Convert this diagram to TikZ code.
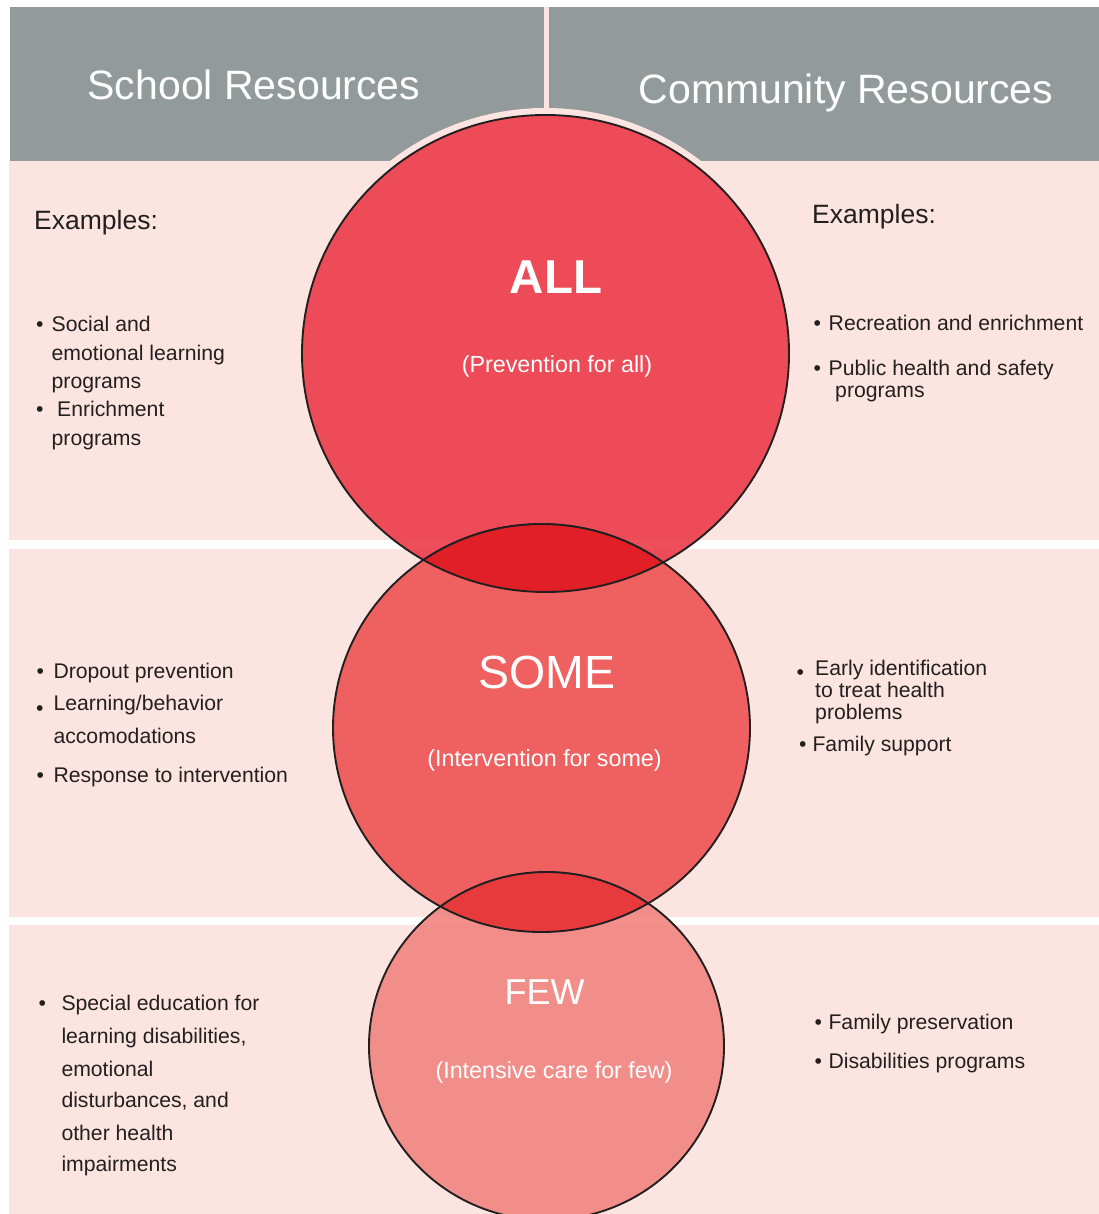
\documentclass[tikz,border=0pt]{standalone}
\usepackage{fontspec}
\setmainfont{Liberation Sans}
\definecolor{pinkbg}{RGB}{252,229,225}
\definecolor{graybg}{RGB}{147,154,155}
\definecolor{allc}{RGB}{235,59,73}
\definecolor{somec}{RGB}{238,83,84}
\definecolor{fewc}{RGB}{242,133,128}
\definecolor{lensa}{RGB}{224,31,38}
\definecolor{lensb}{RGB}{230,58,61}
\definecolor{textdark}{RGB}{35,31,32}
\definecolor{outline}{RGB}{35,31,32}
\tikzset{
  hdr/.style={anchor=base, inner sep=0, text=white, font=\fontsize{41}{45}\selectfont},
  bigw/.style={anchor=base, inner sep=0, text=white},
  subw/.style={anchor=base, inner sep=0, text=white, font=\fontsize{23.3}{26}\selectfont},
  exm/.style={anchor=base west, inner sep=0, text=textdark, font=\fontsize{26.5}{30}\selectfont},
  txt/.style={anchor=base west, inner sep=0, text=textdark, font=\fontsize{21.2}{25}\selectfont},
  bul/.style={anchor=base west, inner sep=0, text=textdark, font=\fontsize{21.2}{25}\selectfont},
  outl/.style={draw=outline, line width=1.9pt},
}
\begin{document}
\begin{tikzpicture}[x=1pt,y=-1pt]
\useasboundingbox (0,0) rectangle (1099,1214);
\fill[white] (0,0) rectangle (1099,1214);
% panels
\fill[pinkbg] (9,161) rectangle (1099,540);
\fill[pinkbg] (9,549) rectangle (1099,917);
\fill[pinkbg] (9,925) rectangle (1099,1214);
% headers
\fill[graybg] (10,7) rectangle (544,161.5);
\fill[graybg] (549,7) rectangle (1099,161.5);
\fill[pinkbg] (544,7) rectangle (549,161.5);
% halo around top circle
\begin{scope}
  \clip (0,0) rectangle (1099,161.5);
  \fill[pinkbg] (545.5,353.5) ellipse [x radius=250.5, y radius=245.5];
\end{scope}
% circles
\fill[allc, fill opacity=0.9] (545.5,353.5) ellipse [x radius=243.5, y radius=238.5];
\fill[somec, fill opacity=0.9] (541.5,728) ellipse [x radius=208.5, y radius=204];
\fill[fewc, fill opacity=0.9] (546.5,1046) ellipse [x radius=177.5, y radius=174];
% lenses
\begin{scope}
  \clip (545.5,353.5) ellipse [x radius=243.5, y radius=238.5];
  \fill[lensa] (541.5,728) ellipse [x radius=208.5, y radius=204];
\end{scope}
\begin{scope}
  \clip (541.5,728) ellipse [x radius=208.5, y radius=204];
  \fill[lensb] (546.5,1046) ellipse [x radius=177.5, y radius=174];
\end{scope}
% outlines
\draw[outl] (545.5,353.5) ellipse [x radius=243.5, y radius=238.5];
\draw[outl] (541.5,728) ellipse [x radius=208.5, y radius=204];
\draw[outl] (546.5,1046) ellipse [x radius=177.5, y radius=174];
\begin{scope}
  \clip (545.5,353.5) ellipse [x radius=243.5, y radius=238.5];
  \draw[outline, line width=1.4pt] (541.5,728) ellipse [x radius=208.5, y radius=204];
\end{scope}
\begin{scope}
  \clip (541.5,728) ellipse [x radius=208.5, y radius=204];
  \draw[outline, line width=1.2pt] (546.5,1046) ellipse [x radius=177.5, y radius=174];
\end{scope}
% header texts
\node[hdr] (hschool) at (254,100) {School Resources};
\node[hdr] (hcomm) at (846,103.3) {Community Resources};
% circle texts
\node[bigw, font=\bfseries\fontsize{47.5}{50}\selectfont] (all) at (556,294) {ALL};
\node[subw] (allsub) at (557,372.7) {(Prevention for all)};
\node[bigw, font=\fontsize{46.5}{50}\selectfont] (some) at (547,688.3) {SOME};
\node[subw] (somesub) at (544.5,766.3) {(Intervention for some)};
\node[bigw, font=\fontsize{36}{40}\selectfont] (few) at (544.5,1004) {FEW};
\node[subw] (fewsub) at (554,1078.3) {(Intensive care for few)};
% top left
\node[exm] (exl) at (34,229.3) {Examples:};
\node[bul] (b1) at (36,331.7) {•};
\node[txt] (t1a) at (51.5,331.7) {Social and};
\node[txt] (t1b) at (51.5,360) {emotional learning};
\node[txt] (t1c) at (51.5,388.3) {programs};
\node[bul] (b2) at (36,416.7) {•};
\node[txt] (t2a) at (57,416.7) {Enrichment};
\node[txt] (t2b) at (51.5,445) {programs};
% top right
\node[exm] (exr) at (812,223.3) {Examples:};
\node[bul] (b3) at (813.5,330) {•};
\node[txt] (t3a) at (828.5,330) {Recreation and enrichment};
\node[bul] (b4) at (813.5,375) {•};
\node[txt] (t4a) at (828.5,375) {Public health and safety};
\node[txt] (t4b) at (835,397) {programs};
% middle left
\node[bul] (b5) at (36.5,678.5) {•};
\node[txt] (t5a) at (53.3,678.5) {Dropout prevention};
\node[bul] (b6) at (36,715.3) {•};
\node[txt] (t6a) at (53.3,710) {Learning/behavior};
\node[txt] (t6b) at (53.3,743.5) {accomodations};
\node[bul] (b7) at (36.5,782.3) {•};
\node[txt] (t7a) at (53.3,782.3) {Response to intervention};
% middle right
\node[bul] (b8) at (796.5,679) {•};
\node[txt] (t8a) at (815,675) {Early identification};
\node[txt] (t8b) at (815,697.3) {to treat health};
\node[txt] (t8c) at (815,719.5) {problems};
\node[bul] (b9) at (799,751.5) {•};
\node[txt] (t9a) at (812.3,751.5) {Family support};
% bottom left
\node[bul] (b10) at (38.5,1010) {•};
\node[txt] (t10a) at (61.3,1010) {Special education for};
\node[txt] (t10b) at (61.3,1043.3) {learning disabilities,};
\node[txt] (t10c) at (61.3,1076) {emotional};
\node[txt] (t10d) at (61.3,1107.3) {disturbances, and};
\node[txt] (t10e) at (61.3,1140) {other health};
\node[txt] (t10f) at (61.3,1171.7) {impairments};
% bottom right
\node[bul] (b11) at (814.5,1029.3) {•};
\node[txt] (t11a) at (828.3,1029.3) {Family preservation};
\node[bul] (b12) at (814.5,1068.3) {•};
\node[txt] (t12a) at (828.3,1068.3) {Disabilities programs};
\end{tikzpicture}
\end{document}
